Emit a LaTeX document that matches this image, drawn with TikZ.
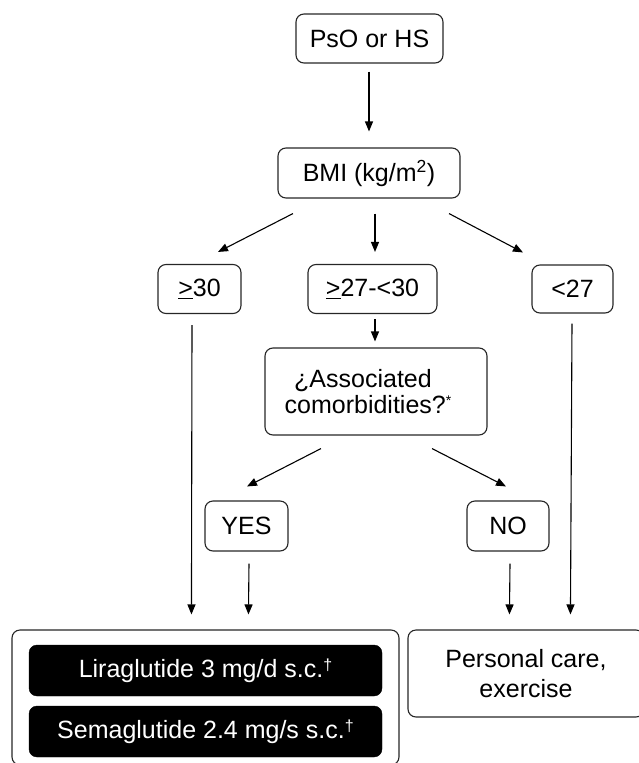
\documentclass[tikz,border=0pt]{standalone}
\usepackage{fontspec}
\setmainfont{Liberation Sans}
\usetikzlibrary{arrows.meta,calc}
\begin{document}
\begin{tikzpicture}[x=1pt,y=-1pt,
  font=\fontsize{25}{28}\selectfont,
  box/.style={draw=black!85,line width=1.1pt,rounded corners=8pt,inner sep=0pt,align=center},
  blk/.style={fill=black,draw=black,rounded corners=8pt,inner sep=0pt,text=white,align=center},
  arr/.style={line width=1.1pt,-{Triangle[length=10pt,width=8pt]}}]
\useasboundingbox (0,0) rectangle (638,763);
\node[box,minimum width=147pt,minimum height=49pt] (ps) at (369.5,38.5) {PsO or HS};
\node[box,minimum width=182pt,minimum height=50pt] (bmi) at (369,173) {BMI (kg/m\textsuperscript{2})};
\node[box,minimum width=83pt,minimum height=49pt] (g30) at (199.5,289) {\underline{>}30};
\node[box,minimum width=129pt,minimum height=49pt] (g27) at (372.5,289) {\underline{>}27-<30};
\node[box,minimum width=81pt,minimum height=48pt] (l27) at (572.5,289) {<27};
\node[box,minimum width=222pt,minimum height=87pt,align=center,font=\fontsize{25}{26.5}\selectfont] (as) at (376,391.5)
  {¿Associated\hspace*{26pt}\\comorbidities?\raisebox{8pt}{\fontsize{14}{14}\selectfont*}\hspace*{16pt}};
\node[box,minimum width=83pt,minimum height=50pt] (yes) at (246.5,526) {YES};
\node[box,minimum width=82pt,minimum height=50pt] (no) at (508,526) {NO};
\node[box,minimum width=387pt,minimum height=135pt] (big) at (205.5,697.5) {};
\node[box,minimum width=236pt,minimum height=87pt,font=\fontsize{25}{30}\selectfont] (pc) at (526,673.5) {Personal care,\\exercise};
\node[blk,minimum width=353pt,minimum height=51pt] (lira) at (205.5,670.5)
  {Liraglutide 3 mg/d s.c.\raisebox{7pt}{\fontsize{16}{16}\selectfont †}};
\node[blk,minimum width=353pt,minimum height=51pt] (sema) at (205.5,731.5)
  {Semaglutide 2.4 mg/s s.c.\raisebox{7pt}{\fontsize{16}{16}\selectfont †}};
% arrows
\draw[arr] ($(ps.south)+(-0.5,8)$) -- ($(bmi.north)+(0,-16)$);
\draw[arr] ($(bmi.south)+(-76,15)$) -- ($(g30.north)+(18.5,-12)$);
\draw[arr] ($(bmi.south)+(6,15)$) -- ($(g27.north)+(2.5,-12)$);
\draw[arr] ($(bmi.south)+(80,15)$) -- ($(l27.north)+(-49.5,-12)$);
\draw[arr] ($(g27.south)+(2.5,5)$) -- ($(as.north)+(-1,-6)$);
\draw[arr] ($(as.south)+(-55,13)$) -- ($(yes.north)+(0.5,-14)$);
\draw[arr] ($(as.south)+(56,13)$) -- ($(no.north)+(-2,-14)$);
\draw[arr] ($(g30.south)+(-7.5,11)$) -- ($(big.north west)+(180,-15)$);
\draw[arr] ($(yes.south)+(2.5,12)$) -- ($(big.north west)+(237,-15)$);
\draw[arr] ($(no.south)+(2,12)$) -- ($(pc.north west)+(102,-15)$);
\draw[arr] ($(l27.south)+(-0.5,10)$) -- ($(pc.north west)+(163,-15)$);
\end{tikzpicture}
\end{document}
